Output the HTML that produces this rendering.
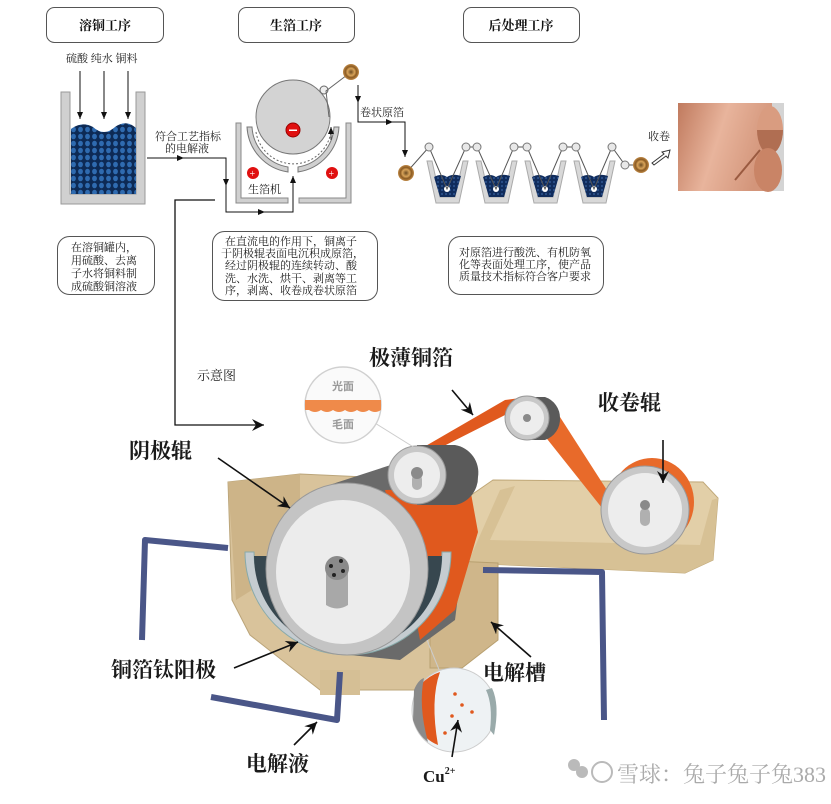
<!DOCTYPE html>
<html><head><meta charset="utf-8"><style>
html,body{margin:0;padding:0;background:#fff;}
svg{display:block;}
text{font-family:"Liberation Serif","Noto Serif CJK SC",serif;}
.b{font-family:"Liberation Sans","Noto Sans CJK SC",sans-serif;font-weight:bold;}
</style></head><body>
<svg width="831" height="804" viewBox="0 0 831 804" xmlns="http://www.w3.org/2000/svg">
<defs>
<marker id="a" markerWidth="8" markerHeight="8" refX="7" refY="4" orient="auto" markerUnits="userSpaceOnUse"><path d="M0,1 L7,4 L0,7z" fill="#111"/></marker>
<marker id="A" markerWidth="14" markerHeight="14" refX="12" refY="7" orient="auto" markerUnits="userSpaceOnUse"><path d="M0,1 L12,7 L0,13 L4,7z" fill="#111"/></marker>
<pattern id="dots" width="7" height="7" patternUnits="userSpaceOnUse"><rect width="7" height="7" fill="#0d2a55"/><ellipse cx="3.5" cy="3.5" rx="2.4" ry="2.8" fill="#2f6bb0"/></pattern>
<pattern id="dots2" width="4" height="4" patternUnits="userSpaceOnUse"><rect width="4" height="4" fill="#102c5c"/><circle cx="2" cy="2" r="1.1" fill="#2a4f88"/></pattern>
<linearGradient id="cu" x1="0" y1="0" x2="1" y2="0.3"><stop offset="0" stop-color="#c07a5e"/><stop offset="0.5" stop-color="#e8b49c"/><stop offset="1" stop-color="#d3957a"/></linearGradient>
<radialGradient id="coil"><stop offset="0" stop-color="#6b4a20"/><stop offset="0.45" stop-color="#d9a45a"/><stop offset="0.7" stop-color="#8a5a22"/><stop offset="1" stop-color="#c08a48"/></radialGradient>
</defs>

<g fill="#fff" stroke="#555" stroke-width="1">
<rect x="46.5" y="7.5" width="117" height="35" rx="8"/>
<rect x="238.5" y="7.5" width="116" height="35" rx="8"/>
<rect x="463.5" y="7.5" width="116" height="35" rx="8"/>
<rect x="57.5" y="236.5" width="97" height="58" rx="12"/>
<rect x="212.5" y="231.5" width="165" height="69" rx="12"/>
<rect x="448.5" y="236.5" width="155" height="58" rx="12"/>
</g>
<g font-size="13" font-weight="bold" fill="#111" text-anchor="middle">
<text x="105" y="30">溶铜工序</text>
<text x="296" y="30">生箔工序</text>
<text x="521" y="30">后处理工序</text>
</g>
<g font-size="11" fill="#222">
<text x="66" y="62">硫酸 纯水 铜料</text>
<text x="71" y="251">在溶铜罐内，</text>
<text x="71" y="264">用硫酸、去离</text>
<text x="71" y="277">子水将铜料制</text>
<text x="71" y="290">成硫酸铜溶液</text>
<text x="225" y="245">在直流电的作用下，铜离子</text>
<text x="221" y="257">于阴极辊表面电沉积成原箔，</text>
<text x="225" y="269">经过阴极辊的连续转动、酸</text>
<text x="225" y="282">洗、水洗、烘干、剥离等工</text>
<text x="225" y="294">序，剥离、收卷成卷状原箔</text>
<text x="459" y="256">对原箔进行酸洗、有机防氧</text>
<text x="459" y="268">化等表面处理工序，使产品</text>
<text x="459" y="280">质量技术指标符合客户要求</text>
<text x="155" y="140">符合工艺指标</text>
<text x="165" y="152">的电解液</text>
<text x="360" y="116">卷状原箔</text>
<text x="648" y="140">收卷</text>
<text x="280" y="115">阴极辊</text>
<text x="248" y="193">生箔机</text>
</g>

<g stroke="#111" stroke-width="1" marker-end="url(#a)">
<line x1="80" y1="71" x2="80" y2="119"/>
<line x1="104" y1="71" x2="104" y2="119"/>
<line x1="128" y1="71" x2="128" y2="119"/>
</g>
<path d="M61,92 H70 V194 H136 V92 H145 V204 H61Z" fill="#d0d0d0" stroke="#999"/>
<path d="M71,129 Q82,121 93,127 Q104,137 115,127 Q126,119 136,128 V194 H71Z" fill="url(#dots)"/>

<g fill="none" stroke="#111" stroke-width="1">
<polyline points="147,158 226,158 226,185"/>
<polyline points="226,185 226,212 293,212 293,176" marker-end="url(#a)"/>
<line x1="147" y1="158" x2="184" y2="158" marker-end="url(#a)"/>
<line x1="226" y1="212" x2="265" y2="212" marker-end="url(#a)"/>
<line x1="226" y1="170" x2="226" y2="186" marker-end="url(#a)"/>
<polyline points="215,200 175,200 175,425 264,425" marker-end="url(#A)" stroke-width="1.3"/>
</g>

<path d="M236,123 H241 V198 H288 V203 H236Z" fill="#d0d0d0" stroke="#888"/>
<path d="M299,198 H346 V123 H351 V203 H299Z" fill="#d0d0d0" stroke="#888"/>
<circle cx="293" cy="117" r="37" fill="#d3d3d3" stroke="#777"/>
<path d="M247,127 A48,48 0 0 0 288,172 L288,167 A43,43 0 0 1 252,127Z" fill="#d0d0d0" stroke="#777"/>
<path d="M339,127 A48,48 0 0 1 298,172 L298,167 A43,43 0 0 0 334,127Z" fill="#d0d0d0" stroke="#777"/>
<path d="M256,132 A38,38 0 0 0 331,132" fill="none" stroke="#666" stroke-dasharray="2,2"/>
<line x1="331" y1="140" x2="331" y2="127" stroke="#333" marker-end="url(#a)"/>
<circle cx="293" cy="130" r="7" fill="#e01010" stroke="#900"/><rect x="289" y="129.5" width="8" height="1.5" fill="#fff"/>
<circle cx="253" cy="173" r="6" fill="#e01010"/><text x="249.5" y="177" font-size="10" fill="#fff">+</text>
<circle cx="332" cy="173" r="6" fill="#e01010"/><text x="328.5" y="177" font-size="10" fill="#fff">+</text>
<circle cx="324" cy="90" r="4" fill="#eee" stroke="#666"/>
<polyline points="329,117 326,91 351,72" fill="none" stroke="#666"/>
<circle cx="351" cy="72" r="8" fill="url(#coil)"/>
<polyline points="358,85 358,122 392,122" fill="none" stroke="#111"/>
<line x1="358" y1="85" x2="358" y2="103" stroke="#111" marker-end="url(#a)"/>
<line x1="380" y1="122" x2="393" y2="122" stroke="#111" marker-end="url(#a)"/>
<polyline points="392,122 405,122 405,157" fill="none" stroke="#111" marker-end="url(#a)"/>

<g>
<g fill="#d8d8d8" stroke="#aaa">
<path d="M427,161 L432,161 L440,197 L455,197 L463,161 L468,161 L459,203 L436,203Z"/>
<path d="M476,161 L481,161 L489,197 L504,197 L512,161 L517,161 L508,203 L485,203Z"/>
<path d="M525,161 L530,161 L538,197 L553,197 L561,161 L566,161 L557,203 L534,203Z"/>
<path d="M574,161 L579,161 L587,197 L602,197 L610,161 L615,161 L606,203 L583,203Z"/>
</g>
<g fill="url(#dots2)">
<path d="M434,177 Q441,173 447,177 Q453,173 461,176 L455,197 L440,197Z"/>
<path d="M483,177 Q490,173 496,177 Q502,173 510,176 L504,197 L489,197Z"/>
<path d="M532,177 Q539,173 545,177 Q551,173 559,176 L553,197 L538,197Z"/>
<path d="M581,177 Q588,173 594,177 Q600,173 608,176 L602,197 L587,197Z"/>
</g>
<g fill="#fff"><circle cx="447" cy="189" r="3"/><circle cx="496" cy="189" r="3"/><circle cx="545" cy="189" r="3"/><circle cx="594" cy="189" r="3"/></g>
<polyline points="406,173 429,147 447,189 466,147 477,147 496,189 514,147 527,147 545,189 563,147 576,147 594,189 612,147 625,165 641,165" fill="none" stroke="#555" stroke-width="1"/>
<g fill="#e8e8e8" stroke="#777"><circle cx="429" cy="147" r="4"/><circle cx="466" cy="147" r="4"/><circle cx="477" cy="147" r="4"/><circle cx="514" cy="147" r="4"/><circle cx="527" cy="147" r="4"/><circle cx="563" cy="147" r="4"/><circle cx="576" cy="147" r="4"/><circle cx="612" cy="147" r="4"/><circle cx="625" cy="165" r="4"/></g>
<circle cx="406" cy="173" r="8" fill="url(#coil)"/>
<circle cx="641" cy="165" r="8" fill="url(#coil)"/>
<path d="M652,163 L664,154 L662,152 L670,150 L668,158 L666,156 L654,165Z" fill="#fff" stroke="#333"/>
<rect x="678" y="103" width="106" height="88" fill="#d4d4d4"/>
<path d="M678,103 H772 V191 H678Z" fill="url(#cu)"/>
<ellipse cx="770" cy="130" rx="13" ry="24" fill="#d99c80"/>
<path d="M757,130 A13,24 0 0 0 783,130" fill="#b06e52"/>
<ellipse cx="768" cy="170" rx="14" ry="22" fill="#c98466"/>
<line x1="735" y1="180" x2="760" y2="150" stroke="#9a5a40" stroke-width="2"/>
</g>

<text x="197" y="380" font-size="13" fill="#222">示意图</text>

<!-- MAIN ILLUSTRATION -->
<path d="M464,500 L493,480 L703,482 L718,498 L713,560 L685,573 L464,563Z" fill="#e2cfa8" stroke="#c0a878"/>
<path d="M470,558 L500,490 L515,486 L490,540 L700,545 L712,500 L718,498 L713,560 L685,573 L464,563Z" fill="#d7c195"/>
<path d="M228,482 L300,474 L430,480 L465,500 L465,655 L430,690 L320,690 L250,635 L232,600Z" fill="#d9c39b" stroke="#bba57a"/>
<path d="M228,482 L300,474 L300,560 L236,600Z" fill="#cdb488"/>
<path d="M430,560 L498,563 L498,640 L462,668 L430,668Z" fill="#cfb68a" stroke="#b8a070"/>
<path d="M320,670 L360,670 L360,695 L320,695Z" fill="#d5bf95"/>
<!-- drum body -->
<path d="M320,488 L400,462 L470,500 L455,620 L400,660 L350,655Z" fill="#6a6a6a"/>
<path d="M385,490 L470,488 L478,532 L455,610 L420,640 L405,560Z" fill="#e0591e"/>
<!-- anode curve (drawn over body) -->
<path d="M245,552 A102,102 0 0 0 451,552 L442,552 A93,93 0 0 1 254,552Z" fill="#c5ccd0" stroke="#8aa"/>
<path d="M254,556 A93,93 0 0 0 442,556 L428,556 A80,80 0 0 1 268,556Z" fill="#37474f"/>
<!-- big drum face -->
<ellipse cx="347" cy="569" rx="81" ry="86" fill="#c4c4c4" stroke="#999"/>
<ellipse cx="343" cy="572" rx="67" ry="72" fill="#ececec"/>
<path d="M326,575 Q326,565 337,565 Q348,565 348,575 L348,605 Q337,612 326,605Z" fill="#a8a8a8"/>
<circle cx="337" cy="568" r="12" fill="#8a8a8a"/>
<g fill="#222"><circle cx="331" cy="566" r="2"/><circle cx="341" cy="561" r="2"/><circle cx="343" cy="571" r="2"/><circle cx="334" cy="575" r="2"/></g>
<!-- orange strip -->
<path d="M398,462 L505,400 L520,398 L515,410 L432,452Z" fill="#e0591e"/>
<path d="M540,400 L551,403 L612,498 L602,508 L532,420Z" fill="#e86a2a"/>
<!-- small roller 1 -->
<path d="M417,445 L455,445 A28,28 0 0 1 478,477 A28,28 0 0 1 455,505 L417,505Z" fill="#5a5a5a"/>
<circle cx="417" cy="475" r="29" fill="#c8c8c8" stroke="#999"/>
<circle cx="417" cy="475" r="23" fill="#ededed"/>
<rect x="412" y="474" width="10" height="16" rx="5" fill="#b0b0b0"/>
<circle cx="417" cy="473" r="6" fill="#8a8a8a"/>
<!-- roller 2 -->
<path d="M527,397 L545,397 A22,22 0 0 1 560,418 A22,22 0 0 1 545,440 L527,440Z" fill="#5a5a5a"/>
<circle cx="527" cy="418" r="22" fill="#c8c8c8" stroke="#999"/>
<circle cx="527" cy="418" r="17" fill="#ededed"/>
<circle cx="527" cy="418" r="4" fill="#8a8a8a"/>
<!-- take-up roller -->
<ellipse cx="652" cy="502" rx="42" ry="44" fill="#e86a2a"/>
<circle cx="645" cy="510" r="44" fill="#c8c8c8" stroke="#999"/>
<circle cx="645" cy="510" r="37" fill="#ededed"/>
<rect x="640" y="508" width="10" height="18" rx="5" fill="#b0b0b0"/>
<circle cx="645" cy="505" r="5" fill="#8a8a8a"/>
<!-- magnifier top -->
<line x1="370" y1="420" x2="415" y2="448" stroke="#ccc"/>
<circle cx="343" cy="405" r="38" fill="#fafafa" stroke="#d0d0d0" stroke-width="1.5"/>
<path d="M305,400 H381 V410 Q375,414 369,410 Q363,414 357,410 Q351,414 345,410 Q339,414 333,410 Q327,414 321,410 Q315,414 309,410 L305,410Z" fill="#ef8a4a"/>
<text x="343" y="390" font-size="11" fill="#999" text-anchor="middle" class="b">光面</text>
<text x="343" y="428" font-size="11" fill="#999" text-anchor="middle" class="b">毛面</text>
<g fill="none" stroke="#4a5688" stroke-width="6" stroke-linejoin="round">
<polyline points="228,548 145,540 142,640"/>
<polyline points="483,570 602,572 604,720"/>
<polyline points="211,697 337,720 340,672"/>
</g>
<line x1="427" y1="640" x2="440" y2="672" stroke="#ccc"/>
<circle cx="454" cy="710" r="42" fill="#eef2f4" stroke="#ccc"/>
<path d="M420,685 Q430,675 440,672 Q430,700 438,745 Q425,740 416,725Z" fill="#e0591e"/>
<path d="M414,690 Q418,680 424,678 Q418,705 428,742 Q418,735 413,720Z" fill="#8a8a8a"/>
<path d="M486,690 Q493,705 490,730 L494,735 Q500,705 492,688Z" fill="#9aa"/>
<g fill="#e0591e"><circle cx="455" cy="694" r="1.8"/><circle cx="462" cy="705" r="1.8"/><circle cx="452" cy="716" r="1.8"/><circle cx="472" cy="712" r="1.8"/><circle cx="445" cy="733" r="1.8"/></g>
<g class="b" font-size="21" fill="#1a1a1a">
<text x="369" y="365">极薄铜箔</text>
<text x="598" y="410">收卷辊</text>
<text x="129" y="458">阴极辊</text>
<text x="111" y="677">铜箔钛阳极</text>
<text x="483" y="680">电解槽</text>
<text x="246" y="771">电解液</text>
</g>
<text x="423" y="782" font-size="17" font-weight="bold" fill="#1a1a1a">Cu<tspan font-size="10" dy="-8">2+</tspan></text>
<g stroke="#111" stroke-width="1.6" marker-end="url(#A)">
<line x1="218" y1="458" x2="290" y2="508"/>
<line x1="452" y1="390" x2="473" y2="415"/>
<line x1="663" y1="440" x2="663" y2="483"/>
<line x1="234" y1="668" x2="298" y2="642"/>
<line x1="531" y1="657" x2="491" y2="622"/>
<line x1="294" y1="745" x2="317" y2="722"/>
<line x1="452" y1="757" x2="458" y2="720"/>
</g>
<g fill="#aaa" opacity="0.8">
<circle cx="574" cy="765" r="6"/><circle cx="582" cy="772" r="6"/>
<circle cx="602" cy="772" r="10" fill="none" stroke="#aaa" stroke-width="2"/>
</g>
<text x="617" y="782" font-size="22" fill="#aaa" font-family="'Liberation Sans','Noto Sans CJK SC',sans-serif">雪球：兔子兔子兔383</text>
</svg>
</body></html>
